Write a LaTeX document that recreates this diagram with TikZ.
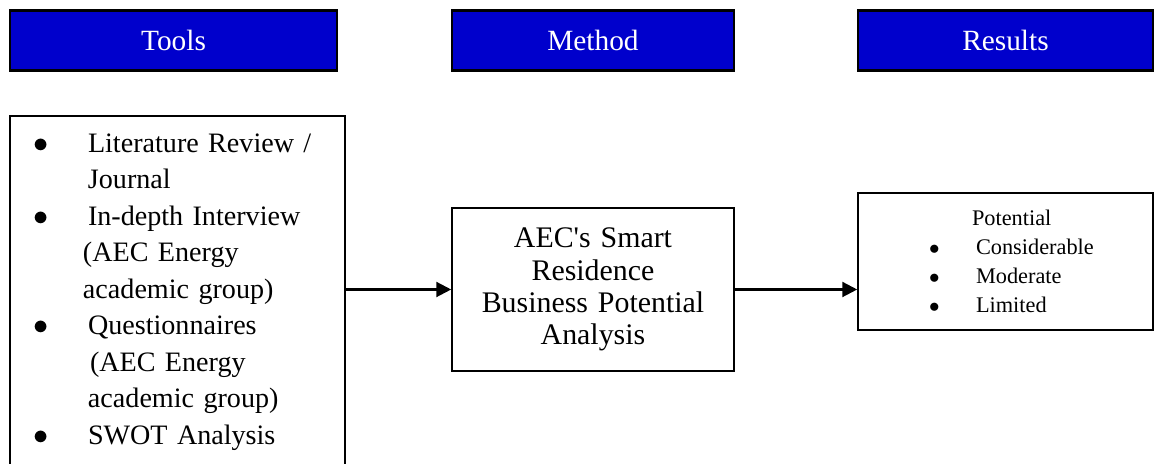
\documentclass[tikz,border=0pt]{standalone}
\usepackage{fontspec}
\setmainfont{Liberation Serif}
\usetikzlibrary{positioning, arrows.meta}
\definecolor{headercol}{RGB}{0,0,204}
\definecolor{boxcol}{RGB}{0,0,0}
\newcommand{\toolitem}[1]{\hspace*{0.46cm}\makebox[1.1cm][l]{$\bullet$}#1}
\newcommand{\resitem}[1]{\hspace*{1.42cm}\makebox[0.94cm][l]{$\bullet$}#1}

\begin{document}
\begin{tikzpicture}[
			node distance=3cm,
			on grid,
			header/.style={
				draw=boxcol,
				line width=1.4pt,
				fill=headercol,
				text=white,
				minimum height=1.2cm,
				inner sep=0pt,
				font=\fontsize{16.7}{20}\selectfont
			},
			box/.style={
				draw=boxcol,
				line width=0.9pt,
				inner sep=0pt,
				fill=white
			},
			every edge/.style={
				draw=boxcol,
				-{Triangle[length=8.5pt,width=8.5pt]},
				line width=1.3pt
			}
			]
			\useasboundingbox (0,0) rectangle (23.12,9.28);
			% Headers
			\node[header, minimum width=6.54cm] (toolshead) at (3.47,8.47) {Tools};
			\node[header, minimum width=5.64cm, right=8.39cm of toolshead] (methodhead) {Method};
			\node[header, minimum width=5.9cm, right=8.25cm of methodhead] (resultshead) {Results};
			
			% Boxes
			\node[box, below=5.03cm of toolshead, xshift=0.08cm, text width=6.7cm, minimum height=7.04cm, align=left, font=\fontsize{16}{20.8}\selectfont] (tools) {%
				\toolitem{\makebox[4.7cm][s]{Literature Review /}}\\
				\hspace*{1.56cm}Journal\\
				\toolitem{In-depth Interview}\\
				\hspace*{1.46cm}(AEC Energy\\
				\hspace*{1.46cm}academic group)\\
				\toolitem{Questionnaires}\\
				\hspace*{1.6cm}(AEC Energy\\
				\hspace*{1.56cm}academic group)\\
				\toolitem{SWOT Analysis}};
			\node[box, below=4.98cm of methodhead, text width=5.64cm, minimum height=3.26cm, align=center, font=\fontsize{17}{18.3}\selectfont] (method) {AEC\textquotesingle s Smart\\Residence\\Business Potential\\Analysis};
			\node[box, below=4.42cm of resultshead, text width=5.9cm, minimum height=2.74cm, align=left, font=\fontsize{12.7}{16.5}\selectfont] (results) {%
				\hspace*{2.28cm}Potential\\
				\resitem{Considerable}\\
				\resitem{Moderate}\\
				\resitem{Limited}};
			
			% Arrows
			\path
			(tools.east |- method.west) edge (method.west)
			(method.east) edge (method.east -| results.west);
		\end{tikzpicture}
\end{document}
